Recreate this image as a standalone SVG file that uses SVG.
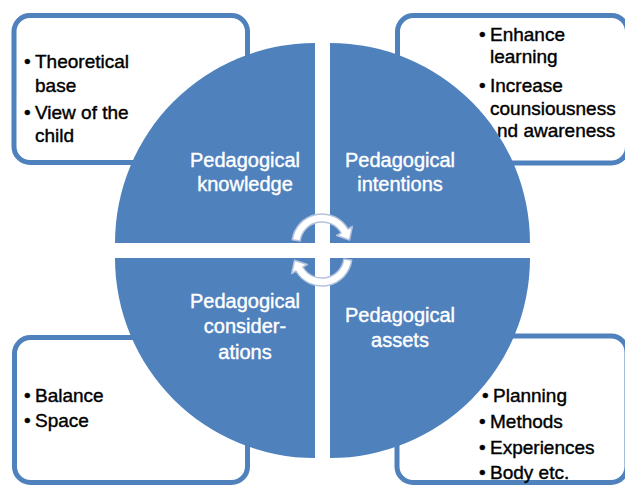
<svg xmlns="http://www.w3.org/2000/svg" width="625" height="485" viewBox="0 0 625 485">
<style>
.box{fill:#ffffff;stroke:#4F81BD;stroke-width:5}
.q{fill:#4F81BD}
.bt{font-family:"Liberation Sans",Arial,sans-serif;font-size:19px;fill:#000000;stroke:#000000;stroke-width:0.4}
.ql{font-family:"Liberation Sans",Arial,sans-serif;font-size:20px;fill:#ffffff;stroke:#ffffff;stroke-width:0.4;text-anchor:middle}
.arr{fill:#ffffff;stroke:#b4c3dd;stroke-width:1.5;stroke-linejoin:round}
</style>
<rect width="625" height="485" fill="#ffffff"/>
<g id="box-knowledge">
<rect class="box" x="14" y="15.5" width="233.5" height="147" rx="16"/>
<text class="bt" y="68"><tspan x="24">•</tspan><tspan x="35">Theoretical</tspan></text>
<text class="bt" x="35" y="92">base</text>
<text class="bt" y="119"><tspan x="24">•</tspan><tspan x="35">View of the</tspan></text>
<text class="bt" x="35" y="142">child</text>
</g>
<g id="box-intentions">
<rect class="box" x="397.5" y="15.5" width="230" height="147.5" rx="16"/>
<text class="bt" y="41"><tspan x="479">•</tspan><tspan x="490">Enhance</tspan></text>
<text class="bt" x="490" y="63">learning</text>
<text class="bt" y="92"><tspan x="479">•</tspan><tspan x="490">Increase</tspan></text>
<text class="bt" x="490" y="115">counsiousness</text>
<text class="bt" x="497" y="137">nd awareness</text>
</g>
<g id="box-considerations">
<rect class="box" x="14.5" y="337.5" width="233" height="145" rx="16"/>
<text class="bt" y="402"><tspan x="24">•</tspan><tspan x="35">Balance</tspan></text>
<text class="bt" y="427"><tspan x="24">•</tspan><tspan x="35">Space</tspan></text>
</g>
<g id="box-assets">
<rect class="box" x="397" y="336" width="230" height="146.5" rx="16"/>
<text class="bt" y="402"><tspan x="482">•</tspan><tspan x="493">Planning</tspan></text>
<text class="bt" y="428"><tspan x="479">•</tspan><tspan x="490">Methods</tspan></text>
<text class="bt" y="454"><tspan x="479">•</tspan><tspan x="490">Experiences</tspan></text>
<text class="bt" y="479"><tspan x="479">•</tspan><tspan x="490">Body etc.</tspan></text>
</g>
<g id="q-knowledge">
<path class="q" d="M315,243 L115,243 A200,200 0 0 1 315,43 Z"/>
<text class="ql" x="245" y="167">Pedagogical</text>
<text class="ql" x="245" y="191">knowledge</text>
</g>
<g id="q-intentions">
<path class="q" d="M330,243 L330,43 A200,200 0 0 1 530,243 Z"/>
<text class="ql" x="400" y="167">Pedagogical</text>
<text class="ql" x="400" y="191">intentions</text>
</g>
<g id="q-assets">
<path class="q" d="M330,258 L530,258 A200,200 0 0 1 330,458 Z"/>
<text class="ql" x="400" y="322">Pedagogical</text>
<text class="ql" x="400" y="347">assets</text>
</g>
<g id="q-considerations">
<path class="q" d="M315,258 L315,458 A200,200 0 0 1 115,258 Z"/>
<text class="ql" x="245" y="308">Pedagogical</text>
<text class="ql" x="245" y="333">consider-</text>
<text class="ql" x="245" y="359">ations</text>
</g>
<g id="connectors">
<path class="arr" d="M292.3,239.8 A30,30 0 0 1 348,229 L352.3,226.5 L349.5,240 L336.7,235.5 L341.1,233 A22,22 0 0 0 300.2,240.9 Z"/>
<path class="arr" d="M351.7,260.2 A30,30 0 0 1 296,271 L291.7,273.5 L294.5,260.3 L307.3,264.5 L302.9,267 A22,22 0 0 0 343.8,259.1 Z"/>
</g>
</svg>
